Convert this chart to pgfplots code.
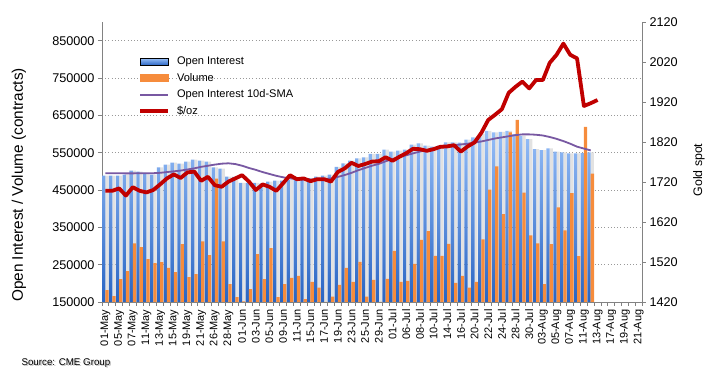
\documentclass[border=0pt]{standalone}
\usepackage{pgfplots}
\pgfplotsset{compat=1.18}
\usepackage{pgfplotstable}
\usepackage{fontspec}
\setmainfont{Liberation Sans}

\definecolor{oiTop}{RGB}{150,190,248}
\definecolor{oiBot}{RGB}{40,100,195}
\definecolor{volC}{RGB}{246,140,60}
\definecolor{smaC}{RGB}{120,88,162}
\definecolor{goldC}{RGB}{192,0,0}
\definecolor{axC}{RGB}{130,130,130}
\definecolor{shadowC}{RGB}{226,226,226}

\pgfplotstableread{
i oi vol sma
0 488700 182000 495000
1 488700 166000 495000
2 488700 211000 495000
3 491300 232700 494500
4 502000 307000 494500
5 499300 296700 495000
6 495800 264700 495000
7 491300 254000 495000
8 510900 256700 496000
9 518000 241500 498000
10 523300 230000 500000
11 520700 304700 502000
12 526000 216700 505000
13 531300 224700 508000
14 528700 312700 512000
15 526000 275300 515000
16 510900 480700 518000
17 507300 312700 520500
18 486000 198000 521500
19 485000 163300 519500
20 469100 152000 515000
21 469100 184700 509000
22 469100 278000 504000
23 467300 211300 498000
24 472700 294000 493000
25 475300 163300 488000
26 475300 198000 484000
27 477100 214800 481000
28 477100 220200 479000
29 479800 158000 478000
30 481500 204200 478000
31 486000 188200 478000
32 488700 150500 479000
33 491300 164200 481000
34 512000 196200 485000
35 521500 241500 490000
36 528700 204200 496000
37 534900 257500 503000
38 537600 164200 509000
39 546500 209500 515000
40 546500 150500 520000
41 558000 212100 527000
42 552700 286800 533000
43 555300 204200 538000
44 558000 206800 543000
45 571300 252100 548000
46 574800 316100 553000
47 568700 340100 557000
48 566000 273500 561000
49 568700 273500 564000
50 577500 305500 567000
51 577500 201500 570000
52 577000 220200 572000
53 584700 188200 574000
54 590900 204200 577000
55 599900 318000 580000
56 608700 451300 584000
57 604200 513500 588000
58 606000 385500 591000
59 608700 604200 594000
60 599900 638000 597000
61 595300 443300 599000
62 586500 328700 599000
63 559800 307300 598000
64 557100 198000 596000
65 561500 304700 592000
66 552700 403300 587000
67 551000 342000 581000
68 548100 441500 574000
69 548100 272700 566000
70 548500 619300 561000
71 551000 494000 556000
}\oidata

\pgfplotstableread{
i gold
0 1698
1 1698
2 1704
3 1686
4 1707
5 1698
6 1694
7 1700
8 1714
9 1729
10 1739
11 1730
12 1744
13 1746
14 1723
15 1733
16 1712
17 1708
18 1721
19 1729
20 1737
21 1721
22 1700
23 1714
24 1708
25 1698
26 1717
27 1737
28 1727
29 1729
30 1722
31 1727
32 1727
33 1721
34 1745
35 1754
36 1768
37 1760
38 1765
39 1771
40 1772
41 1782
42 1773
43 1783
44 1792
45 1803
46 1802
47 1798
48 1802
49 1808
50 1809
51 1812
52 1796
53 1809
54 1819
55 1843
56 1875
57 1888
58 1902
59 1943
60 1958
61 1971
62 1954
63 1975
64 1975
65 2018
66 2038
67 2066
68 2038
69 2029
70 1910
71 1917
72 1925
}\golddata

\begin{document}
\begin{tikzpicture}
\useasboundingbox (0,0) rectangle (719bp,383bp);
\pgfplotsset{
  base/.style={
    scale only axis, width=540bp, height=280bp,
    at={(102bp,81bp)}, anchor=south west,
    xmin=-0.5, xmax=78.5,
    tick align=outside,
    major tick length=4bp, minor tick length=4bp,
    scaled y ticks=false,
    /pgf/number format/assume math mode=true,
    /pgf/number format/1000 sep={},
    /pgf/number format/fixed,
    yticklabel style={font=\fontsize{12.7}{14}\selectfont},
    axis line style={draw=axC, line width=0.8bp},
    every tick/.style={draw=axC, line width=0.7bp},
  }
}
\begin{axis}[base,
  ymin=150000, ymax=900000,
  axis x line*=bottom, axis y line*=left,
  ytick={150000,250000,350000,450000,550000,650000,750000,850000},
  ymajorgrids,
  major grid style={draw=gray!80, line width=0.7bp, dash pattern=on 0.8bp off 2.4bp},
  xtick={0,2,...,78},
  xticklabels={01-May,05-May,07-May,11-May,13-May,15-May,19-May,21-May,26-May,28-May,01-Jun,03-Jun,05-Jun,09-Jun,11-Jun,15-Jun,17-Jun,19-Jun,23-Jun,25-Jun,29-Jun,01-Jul,06-Jul,08-Jul,10-Jul,14-Jul,16-Jul,20-Jul,22-Jul,24-Jul,28-Jul,30-Jul,03-Aug,05-Aug,07-Aug,11-Aug,13-Aug,17-Aug,19-Aug,21-Aug},
  major x tick style={draw=none},
  minor xtick={-0.5,0.5,...,78.5},
  xticklabel style={rotate=90, anchor=east, font=\fontsize{11}{12}\selectfont},
  ylabel={Open Interest / Volume (contracts)},
  ylabel style={at={(axis description cs:-0.154,0.418)}, anchor=center, font=\fontsize{15.4}{17}\selectfont},
]
\addplot[ybar, bar width=0.46, bar shift=0.23, fill=shadowC, draw=none, forget plot] table[x=i,y=oi]{\oidata};
\addplot[ybar, bar width=0.48, bar shift=-0.24, top color=oiTop, bottom color=oiBot, draw=none] table[x=i,y=oi]{\oidata};
\addplot[ybar, bar width=0.48, bar shift=0.24, fill=volC, draw=none] table[x=i,y=vol]{\oidata};
\addplot[smaC, line width=1.8bp, no markers] table[x=i,y=sma]{\oidata};
\end{axis}
\begin{axis}[base,
  ymin=1420, ymax=2120,
  axis y line*=right, axis x line=none,
  ytick={1420,1520,...,2120},
  ylabel={Gold spot},
  ylabel style={at={(axis description cs:1.1056,0.4714)}, anchor=center, font=\fontsize{12.4}{14}\selectfont},
  legend image code/.code={\draw[#1] (0bp,0bp) -- (28bp,0bp);},
  legend cell align=left,
  legend style={at={(0.0667,0.882)}, anchor=north west, draw=none, fill=none,
    font=\fontsize{11.1}{13}\selectfont, inner sep=0pt, row sep=3bp,
    /tikz/every odd column/.append style={column sep=5bp}},
]
\addlegendimage{legend image code/.code={\shade[top color=oiTop,bottom color=oiBot] (0bp,-3.5bp) rectangle (28bp,3.5bp);}}
\addlegendentry{Open Interest}
\addlegendimage{legend image code/.code={\fill[volC] (0bp,-3.5bp) rectangle (28bp,3.5bp);}}
\addlegendentry{Volume}
\addlegendimage{smaC, line width=1.8bp}
\addlegendentry{Open Interest 10d-SMA}
\addplot[goldC, line width=3.8bp, line join=round, no markers] table[x=i,y=gold]{\golddata};
\addlegendentry{\$/oz}
\end{axis}
\node[anchor=west, text=black!25, font=\fontsize{9.8}{11}\selectfont] at (19.2bp,18.8bp) {Source: CME Group};
\node[anchor=west, font=\fontsize{9.8}{11}\selectfont] at (18bp,20bp) {Source: CME Group};
\end{tikzpicture}
\end{document}
